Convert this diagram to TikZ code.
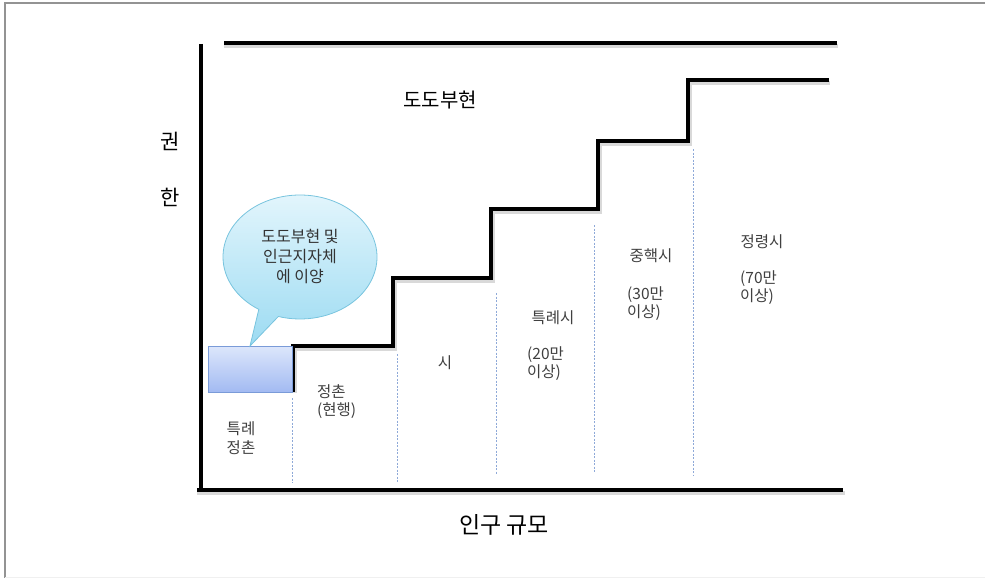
\documentclass[tikz,border=0pt]{standalone}
\usepackage{fontspec}
\setmainfont{Noto Sans CJK KR}
\usetikzlibrary{shapes.callouts,shadows}
\definecolor{txt}{HTML}{404040}
\definecolor{dashc}{HTML}{8EA9D8}
\definecolor{boxtop}{HTML}{DCE6FB}
\definecolor{boxbot}{HTML}{A2BAF2}
\definecolor{boxdraw}{HTML}{7A9BD8}
\definecolor{bubtop}{HTML}{E2F5FC}
\definecolor{bubbot}{HTML}{9CDBF2}
\definecolor{bubdraw}{HTML}{78C4DE}
\tikzset{
  thickline/.style={line width=4pt,black,line cap=butt},
  shadowline/.style={line width=4pt,black!15,line cap=butt},
  divider/.style={dashc,dash pattern=on 2pt off 1.5pt,line width=0.9pt},
  lbl/.style={text=txt,font=\fontsize{15.5}{18.5}\selectfont,inner sep=0pt},
  lblL/.style={lbl,align=left,anchor=north west},
  lblC/.style={lbl,align=center},
}
\begin{document}
\begin{tikzpicture}[x=1pt,y=-1pt]
\useasboundingbox (0,0) rectangle (985,578);
% outer frame
\draw[gray!85,line width=2pt] (5,578) -- (5,3) -- (985,3);
\draw[gray!12,line width=1pt] (5,577) -- (985,577);

% dividers
\draw[divider] (292,398) -- (292,483);
\draw[divider] (397,354) -- (397,482);
\draw[divider] (496,293) -- (496,475);
\draw[divider] (594,225) -- (594,473);
\draw[divider] (693,149) -- (693,475);

% shadows
\draw[shadowline] (224,46) -- (838,46);
\draw[shadowline] (295,393) -- (295,349) -- (395,349) -- (395,281) -- (493,281) -- (493,212) -- (600,212) -- (600,144) -- (690,144) -- (690,83) -- (830,83);
\draw[shadowline] (197,493) -- (845,493);

% axes
\draw[thickline] (201,44) -- (201,492);
\draw[thickline] (197,490) -- (843,490);
\draw[thickline] (224,43) -- (837,43);

% staircase
\draw[thickline,line join=miter] (293,392) -- (293,346) -- (393,346) -- (393,278) -- (491,278) -- (491,209) -- (598,209) -- (598,141) -- (688,141) -- (688,80) -- (829,80);

% blue box
\node[draw=boxdraw,line width=0.8pt,top color=boxtop,bottom color=boxbot,
  minimum width=84pt,minimum height=46pt,inner sep=0pt,anchor=north west] (box) at (208,346) {};

% callout
\node[ellipse callout,draw=bubdraw,line width=0.8pt,top color=bubtop,bottom color=bubbot,
  minimum width=154pt,minimum height=124pt,inner sep=0pt,
  callout absolute pointer={(250,346)},callout pointer arc=16] (bub) at (300,257) {};
\node[lblC,font=\fontsize{16}{20}\selectfont,text=black!80] (bubtxt) at (300,257) {도도부현 및\\인근지자체\\에 이양};

% labels
\node[lblC] (t1) at (241,438) {특례\\정촌};
\node[lblL] (t2) at (317,384) {정촌\\(현행)};
\node[lblC] (t3) at (445,363) {시};
\node[lblC] (t4) at (553,318) {특례시};
\node[lblL] (t4b) at (527,346) {(20만\\이상)};
\node[lblC] (t5) at (651,256) {중핵시};
\node[lblL] (t5b) at (627,286) {(30만\\이상)};
\node[lblC] (t6) at (762,242) {정령시};
\node[lblL] (t6b) at (740,270) {(70만\\이상)};

\node[font=\fontsize{20}{24}\selectfont,inner sep=0pt] (top) at (440,100) {도도부현};
\node[font=\fontsize{21}{24}\selectfont,inner sep=0pt] (y1) at (170,141) {권};
\node[font=\fontsize{21}{24}\selectfont,inner sep=0pt] (y2) at (170,197) {한};
\node[font=\fontsize{23}{26}\selectfont,inner sep=0pt] (xl) at (504,525) {인구 규모};
\end{tikzpicture}
\end{document}
